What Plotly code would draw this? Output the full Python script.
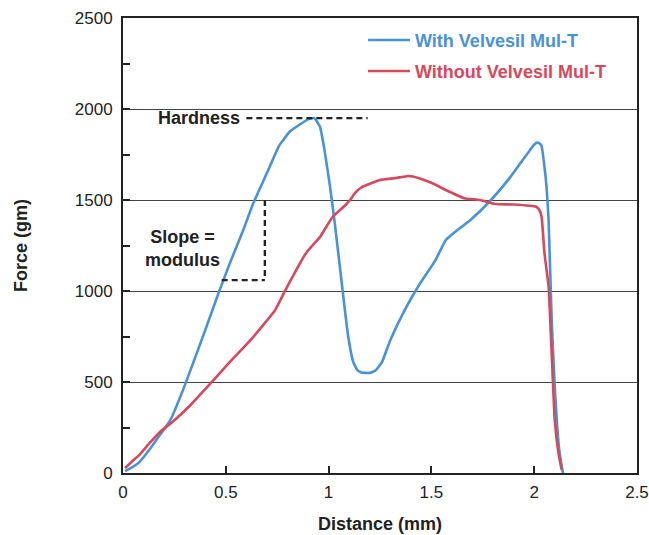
import plotly.graph_objects as go

# With Velvesil Mul-T (blue)
with_x = [0.01, 0.05, 0.08, 0.13, 0.18, 0.23, 0.30, 0.40, 0.47, 0.52, 0.585, 0.634, 0.70, 0.76,
          0.78, 0.81, 0.86, 0.90, 0.93, 0.958, 0.98, 1.007, 1.03, 1.064, 1.094, 1.12, 1.14, 1.16,
          1.20, 1.23, 1.26, 1.30, 1.37, 1.44, 1.52, 1.57, 1.61, 1.69, 1.79, 1.88, 1.98, 2.005,
          2.02, 2.035, 2.048, 2.06, 2.07, 2.085, 2.10, 2.12, 2.135, 2.14]
with_y = [10, 35, 60, 130, 210, 290, 480, 785, 1005, 1153, 1335, 1483, 1648, 1800,
          1830, 1875, 1915, 1943, 1950, 1903, 1775, 1573, 1373, 1043, 760, 610, 565, 552,
          550, 565, 610, 730, 895, 1033, 1170, 1280, 1320, 1390, 1500, 1620, 1775, 1810,
          1815, 1800, 1700, 1573, 1390, 840, 474, 145, 30, 0]

# Without Velvesil Mul-T (red)
without_x = [0.01, 0.05, 0.08, 0.13, 0.18, 0.25, 0.33, 0.42, 0.52, 0.62, 0.74, 0.79, 0.89, 0.96,
             1.02, 1.08, 1.104, 1.13, 1.16, 1.185, 1.25, 1.32, 1.39, 1.44, 1.50, 1.57, 1.66,
             1.736, 1.81, 1.90, 2.01, 2.025, 2.036, 2.05, 2.07, 2.085, 2.10, 2.118, 2.134]
without_y = [27, 70, 100, 165, 225, 290, 375, 485, 610, 730, 895, 1005, 1208, 1300,
             1408, 1470, 1500, 1540, 1570, 1582, 1610, 1620, 1632, 1620, 1595, 1555, 1510,
             1500, 1478, 1475, 1463, 1445, 1408, 1208, 1024, 658, 291, 110, 16]

blue = "#4a91d6"
red = "#d6495d"
ink = "#222222"
font_family = "Liberation Sans, Arial, Helvetica, sans-serif"

fig = go.Figure()
fig.add_trace(go.Scatter(x=with_x, y=with_y, mode="lines",
                         line=dict(color=blue, width=2.6, shape="spline", smoothing=0.4),
                         name=f"<b><span style='color:{blue}'>With Velvesil Mul-T</span></b>",
                         legend="legend"))
fig.add_trace(go.Scatter(x=without_x, y=without_y, mode="lines",
                         line=dict(color=red, width=2.6, shape="spline", smoothing=0.4),
                         name=f"<b><span style='color:{red}'>Without Velvesil Mul-T</span></b>",
                         legend="legend2"))

dash_style = dict(color=ink, width=2.4, dash="6px,4px")
# Hardness dashed line
fig.add_shape(type="line", x0=0.6, x1=1.19, y0=1950, y1=1950, line=dash_style)
# Slope dashed lines
fig.add_shape(type="line", x0=0.69, x1=0.69, y0=1500, y1=1060, line=dash_style)
fig.add_shape(type="line", x0=0.48, x1=0.69, y0=1060, y1=1060, line=dash_style)

fig.add_annotation(x=0.58, y=1950, text="<b>Hardness</b>", showarrow=False,
                   xanchor="right", yanchor="middle",
                   font=dict(size=18, color=ink, family=font_family))
fig.add_annotation(x=0.29, y=1236, text="<b>Slope =<br>modulus</b>", showarrow=False,
                   xanchor="center", yanchor="middle", align="center",
                   font=dict(size=18, color=ink, family=font_family))

legend_common = dict(xanchor="left", yanchor="middle", bgcolor="rgba(0,0,0,0)",
                     font=dict(size=18, family=font_family), itemwidth=42)

fig.update_layout(
    width=649, height=535,
    margin=dict(l=123, r=12, t=18, b=62, autoexpand=False),
    paper_bgcolor="white", plot_bgcolor="white",
    font=dict(family=font_family, size=17, color=ink),
    showlegend=True,
    legend=dict(x=0.467, y=0.951, **legend_common),
    legend2=dict(x=0.467, y=0.883, **legend_common),
    xaxis=dict(range=[0, 2.5], dtick=0.5, tick0=0, showgrid=False, zeroline=False,
               showline=True, linecolor=ink, linewidth=2, mirror=True,
               ticks="inside", ticklen=7, tickwidth=2, tickcolor=ink, automargin=False,
               ticklabelstandoff=3,
               title=dict(text="<b>Distance (mm)</b>", font=dict(size=18), standoff=16),
               tickfont=dict(size=17)),
    yaxis=dict(range=[0, 2500], dtick=500, tick0=0, showgrid=True, gridcolor="#444444",
               gridwidth=1, zeroline=False,
               showline=True, linecolor=ink, linewidth=2, mirror=True,
               ticks="inside", ticklen=7, tickwidth=2, tickcolor=ink, automargin=False,
               ticklabelstandoff=5,
               minor=dict(dtick=250, ticks="inside", ticklen=7, tickwidth=2, tickcolor=ink,
                          showgrid=False),
               title=dict(text="<b>Force (gm)</b>", font=dict(size=18), standoff=42),
               tickfont=dict(size=17)),
)

fig.write_html("out.html")
